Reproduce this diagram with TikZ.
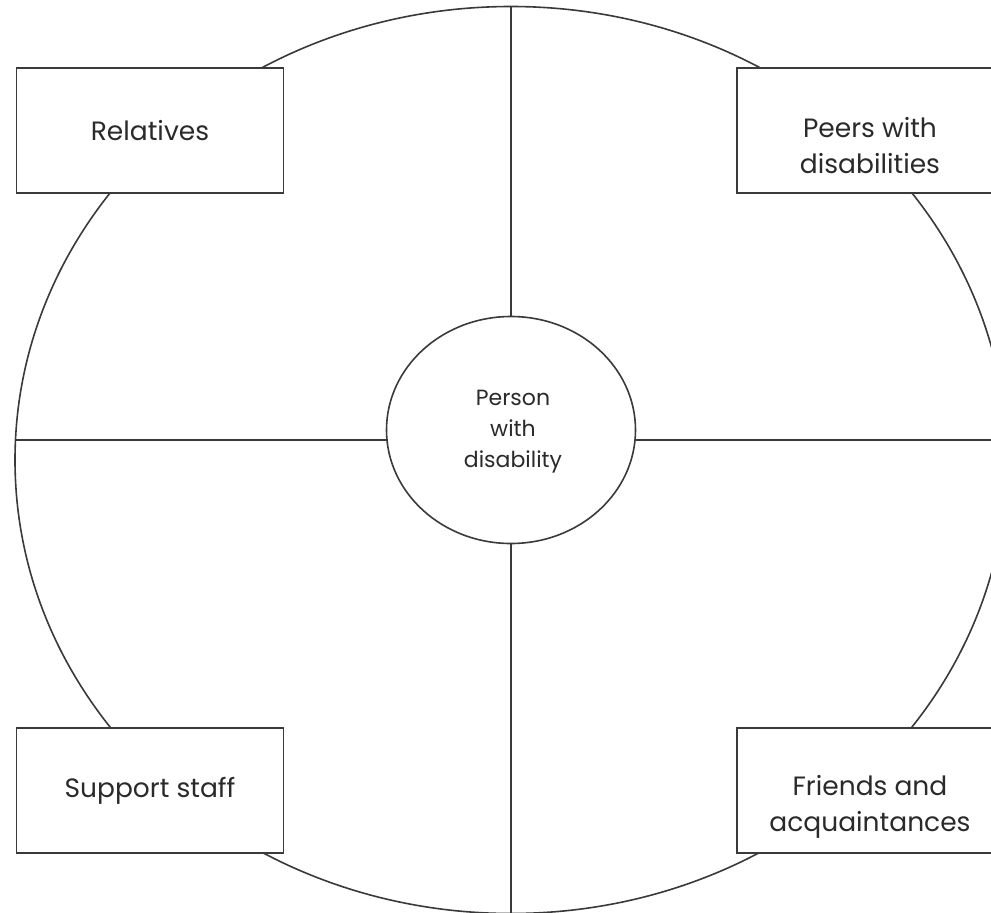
\documentclass[tikz,border=0pt]{standalone}
\usepackage{fontspec}
\setmainfont{Poppins}
\usetikzlibrary{shapes.geometric}
\definecolor{linec}{HTML}{3A3A3A}
\definecolor{textc}{HTML}{2A2A2A}
\begin{document}
\begin{tikzpicture}[x=1pt,y=-1pt,
  conn/.style={draw=linec,line width=1.6pt},
  ringshape/.style={ellipse,draw=linec,line width=1.6pt,inner sep=0pt,outer sep=0pt},
  groupbox/.style={rectangle,draw=linec,line width=1.6pt,fill=white,inner sep=0pt,outer sep=0pt,
    minimum width=267pt,minimum height=125pt},
  boxtext/.style={align=center,text=textc,inner sep=0pt,font=\fontsize{26.5}{36}\selectfont},
  centertext/.style={text=textc,align=center,font=\fontsize{22}{31}\selectfont}]
\useasboundingbox (0,0) rectangle (991,913);
\clip (0,0) rectangle (991,913);
\fill[white] (0,0) rectangle (991,913);
\node[ringshape,minimum width=992pt,minimum height=907pt] (outer) at (511,460) {};
\node[ringshape,minimum width=249pt,minimum height=227pt] (inner) at (511,430) {};
\node[centertext] (ctext) at (513,432) {Person\\with\\disability};
\coordinate (lw) at (15.5,440);
\coordinate (rw) at (1006,440);
\draw[conn] (outer.north) -- (inner.north);
\draw[conn] (inner.south) -- (outer.south);
\draw[conn] (lw) -- (inner.west |- lw);
\draw[conn] (inner.east |- rw) -- (rw);
\node[groupbox] (rel) at (150,130.5) {};
\node[groupbox] (peers) at (870.5,130.5) {};
\node[groupbox] (staff) at (150,790.5) {};
\node[groupbox] (friends) at (870.5,790.5) {};
\node[boxtext] (relt) at (rel.center) {Relatives};
\node[boxtext] (peerst) at (870,146) {Peers with\\disabilities};
\node[boxtext] (stafft) at (150,790.5) {Support staff};
\node[boxtext] (friendst) at (870,806.5) {Friends and\\acquaintances};
\end{tikzpicture}
\end{document}
